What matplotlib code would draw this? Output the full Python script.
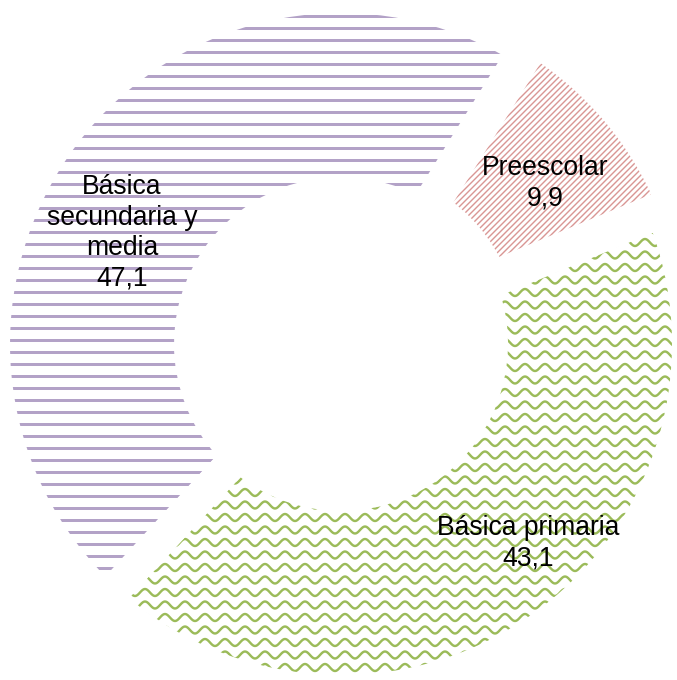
import numpy as np
import matplotlib
matplotlib.use("Agg")
import matplotlib.pyplot as plt
from matplotlib.collections import LineCollection

# data
categories = ["Preescolar", "Básica primaria", "Básica secundaria y media"]
values = [9.9, 43.1, 47.1]
label_texts = ["Preescolar\n9,9", "Básica primaria\n43,1", "Básica\nsecundaria y\nmedia\n47,1"]

# styling
colors = ["#D99694", "#9BBB59", "#B3A2C7"]
explode = [14, 0, 0]   # pie explode is in data units (canvas px here)
label_pos = [(545, 497), (528, 137), (122, 447)]   # canvas coords, y up

W, H = 677, 680
center = (341, 336)
radius = 347
ring = 196
gap = 32

plt.rcParams["font.family"] = ["Liberation Sans", "DejaVu Sans"]

fig = plt.figure(figsize=(W / 72, H / 72), dpi=72)
ax = fig.add_axes([0, 0, 1, 1])

start = 90 - 32

# invisible wedges used as clip paths for the pattern fills
wedges, _ = ax.pie(values, startangle=start, counterclock=False, explode=explode,
                   center=center, radius=radius, frame=True,
                   wedgeprops=dict(width=ring, linewidth=0, facecolor="none"))

# pattern line sets
def diag_lines(step):
    segs = []
    for c in np.arange(-H, W + H, step):
        segs.append([(c, 0), (c + H, H)])
    return segs

def horiz_lines(top, step):
    return [[(0, y), (W, y)] for y in np.arange(top, -step, -step)]

def wave_lines(step, amp, period):
    xs = np.arange(0, W + 1, 1.0)
    segs = []
    for y0 in np.arange(-step, H + step, step):
        ys = y0 + amp * np.sin(2 * np.pi * xs / period)
        segs.append(np.column_stack([xs, ys]))
    return segs

patterns = [
    (diag_lines(6), 1.4),
    (wave_lines(12.5, 3.5, 20), 2.4),
    (horiz_lines(H - 16, 12), 3.0),
]
for w, c, (segs, lw) in zip(wedges, colors, patterns):
    lc = LineCollection(segs, colors=c, linewidths=lw, zorder=1)
    ax.add_collection(lc)
    lc.set_clip_path(w)

# white separators / borders
borders, _ = ax.pie(values, startangle=start, counterclock=False, explode=explode,
                    center=center, radius=radius, frame=True,
                    wedgeprops=dict(width=ring, facecolor="none",
                                    edgecolor="white", linewidth=gap))
for b in borders:
    b.set_zorder(3)

for (x, y), t in zip(label_pos, label_texts):
    ax.text(x, y, t, ha="center", va="center", fontsize=26.5,
            linespacing=1.22, color="black", zorder=5)

ax.set_xlim(0, W)
ax.set_ylim(0, H)
ax.set_aspect("equal")
ax.axis("off")

fig.savefig("out.png", dpi=72, facecolor="white")
